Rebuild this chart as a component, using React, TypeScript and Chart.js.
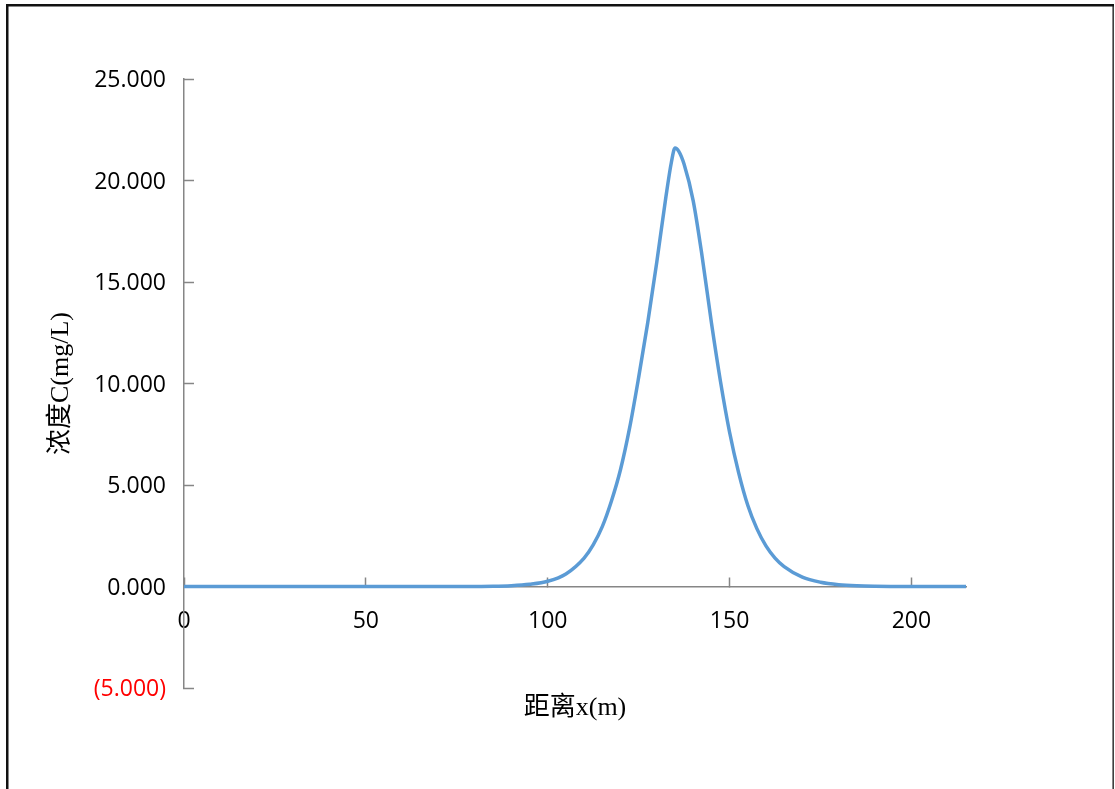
import React, { useEffect, useRef } from "react";
import { Chart, registerables } from "chart.js";

Chart.register(...registerables);

// distance x (m)
const distances: number[] = [
  0, 10, 20, 30, 40, 50, 60, 70, 80, 85, 90, 95, 100, 105, 110, 112.5, 115, 117.5,
  120, 122.5, 125, 127.5, 130, 132.5, 134, 135, 136, 137.5, 140, 142.5, 145, 147.5,
  150, 152.5, 155, 157.5, 160, 162.5, 165, 170, 175, 180, 185, 190, 195, 200, 205,
  210, 215,
];
// concentration C (mg/L)
const concentrations: number[] = [
  0, 0, 0, 0, 0, 0, 0, 0, 0.002, 0.01, 0.04, 0.11, 0.26, 0.62, 1.4, 2.05, 2.95, 4.2,
  5.75, 7.8, 10.3, 13.0, 16.0, 19.2, 20.9, 21.6, 21.45, 20.8, 19.0, 16.2, 13.0, 10.1,
  7.6, 5.6, 4.0, 2.85, 2.0, 1.4, 0.98, 0.46, 0.21, 0.09, 0.035, 0.012, 0.004, 0.001, 0,
  0, 0,
];
const xTickValues: number[] = [0, 50, 100, 150, 200];
const yTickValues: number[] = [-5, 0, 5, 10, 15, 20, 25];
const xTitle = "距离x(m)";
const yTitle = "浓度C(mg/L)";

const AXIS_GRAY = "#868686";
const LINE_BLUE = "#5B9BD5";
const TICK_FONT = { family: "'Open Sans', sans-serif", size: 23 };
const TITLE_FONT = { family: "'Liberation Serif', 'Noto Sans CJK SC', serif", size: 26 };

const framePlugin = {
  id: "frame",
  beforeDraw(chart: any) {
    const ctx = chart.ctx;
    ctx.save();
    ctx.fillStyle = "#ffffff";
    ctx.fillRect(0, 0, chart.width, chart.height);
    ctx.fillStyle = "#111111";
    ctx.fillRect(6, 4, 2.5, chart.height);
    ctx.fillRect(6, 4, 1108, 2.5);
    ctx.fillRect(1112.5, 4, 1.3, chart.height);
    ctx.restore();
  },
};

export default function App() {
  const canvasRef = useRef<HTMLCanvasElement | null>(null);

  useEffect(() => {
    if (!canvasRef.current) return;
    const data = distances.map((x, i) => ({ x, y: concentrations[i] }));
    const chart = new Chart(canvasRef.current, {
      type: "line",
      data: {
        datasets: [
          {
            data,
            borderColor: LINE_BLUE,
            borderWidth: 3.5,
            pointRadius: 0,
            fill: false,
            cubicInterpolationMode: "monotone",
          },
        ],
      },
      options: {
        animation: false,
        responsive: false,
        devicePixelRatio: 1,
        layout: { padding: { left: 0, top: 79, right: 149, bottom: 101 } },
        plugins: { legend: { display: false }, tooltip: { enabled: false } },
        scales: {
          x: {
            type: "linear",
            position: { y: 0 } as any,
            min: 0,
            max: 215,
            afterBuildTicks: (s: any) => {
              s.ticks = xTickValues.map((v) => ({ value: v }));
            },
            afterFit: (s: any) => {
              s.height = 137;
            },
            grid: {
              display: true,
              drawOnChartArea: false,
              drawTicks: true,
              tickLength: -10,
              tickColor: AXIS_GRAY,
              tickWidth: 1.5,
              color: AXIS_GRAY,
            },
            border: { display: true, color: AXIS_GRAY, width: 1.5 },
            ticks: {
              autoSkip: false,
              maxRotation: 0,
              padding: 31,
              color: "#000000",
              font: TICK_FONT,
              callback: (v: any) => String(v),
            },
            title: {
              display: true,
              text: xTitle,
              color: "#000000",
              font: TITLE_FONT,
              padding: { top: 0, bottom: 0 },
            },
          },
          y: {
            type: "linear",
            position: "left",
            min: -5,
            max: 25,
            afterBuildTicks: (s: any) => {
              s.ticks = yTickValues.map((v) => ({ value: v }));
            },
            afterFit: (s: any) => {
              s.width = 184;
            },
            grid: {
              display: true,
              drawOnChartArea: false,
              drawTicks: true,
              tickLength: -10,
              tickColor: AXIS_GRAY,
              tickWidth: 1.5,
              color: AXIS_GRAY,
            },
            border: { display: true, color: AXIS_GRAY, width: 1.5 },
            ticks: {
              autoSkip: false,
              padding: 28,
              labelOffset: 1.5,
              font: TICK_FONT,
              color: (c: any) => (c.tick && c.tick.value < 0 ? "#FF0000" : "#000000"),
              callback: (v: any) =>
                v < 0 ? `(${Math.abs(v).toFixed(3)})` : Number(v).toFixed(3),
            },
            title: {
              display: true,
              text: yTitle,
              color: "#000000",
              font: TITLE_FONT,
              padding: { top: 46, bottom: 0 },
            },
          },
        },
      },
      plugins: [framePlugin],
    });
    return () => chart.destroy();
  }, []);

  return (
    <canvas
      ref={canvasRef}
      width={1115}
      height={789}
      style={{ position: "absolute", left: 0, top: 0, display: "block" }}
    />
  );
}
